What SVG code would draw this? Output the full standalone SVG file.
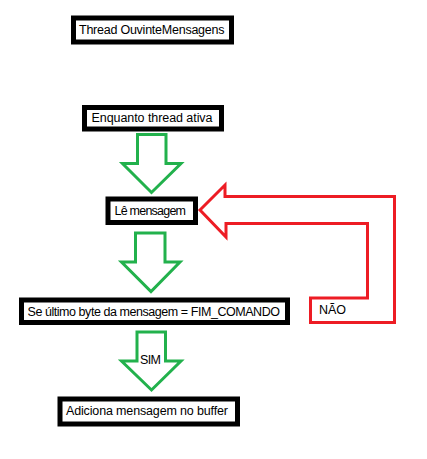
<svg xmlns="http://www.w3.org/2000/svg" width="427" height="459" viewBox="0 0 427 459">
<style>
.box{fill:#fff;stroke:#000;stroke-width:5}
.t{font-family:"Liberation Sans",Arial,sans-serif;font-size:12.5px;fill:#000}
.g{fill:#fff;stroke:#22B14C;stroke-width:3}
.r{fill:#fff;stroke:#ED1C24;stroke-width:3}
</style>
<rect width="427" height="459" fill="#fff"/>
<g id="connectors">
<polygon class="g" points="137.5,134.5 166,134.5 166,163.5 181,163.5 151.5,192.5 122.5,163.5 137.5,163.5"/>
<polygon class="g" points="135.5,233 165,233 165,262 180,262 151,291.5 121.5,262 135.5,262"/>
<polygon class="g" points="137,332 165.5,332 165.5,361 181,361 151.5,390 121.5,361 137,361"/>
<text class="t" x="140" y="363.5" font-size="11.5" textLength="21">SIM</text>
<polygon class="r" points="200,210 225,185 225,196.5 394.5,196.5 394.5,322.5 310.5,322.5 310.5,298 367.5,298 367.5,223.5 226,223.5 226,237"/>
<text class="t" x="319" y="314" font-size="11.5">NÃO</text>
</g>
<g id="n1">
<rect class="box" x="73.5" y="18" width="158" height="24"/>
<text class="t" x="79" y="34" textLength="145.5">Thread OuvinteMensagens</text>
</g>
<g id="n2">
<rect class="box" x="84.5" y="107.5" width="137" height="21.5"/>
<text class="t" x="91.5" y="122" textLength="121">Enquanto thread ativa</text>
</g>
<g id="n3">
<rect class="box" x="108" y="199" width="87.5" height="23.5"/>
<text class="t" x="114.5" y="214.5" textLength="71.5">Lê mensagem</text>
</g>
<g id="n4">
<rect class="box" x="21.5" y="300" width="266" height="22.5"/>
<text class="t" x="27.5" y="315.5" textLength="252.5">Se último byte da mensagem = FIM_COMANDO</text>
</g>
<g id="n5">
<rect class="box" x="60" y="399" width="177.5" height="25"/>
<text class="t" x="66" y="415" textLength="162">Adiciona mensagem no buffer</text>
</g>
</svg>
